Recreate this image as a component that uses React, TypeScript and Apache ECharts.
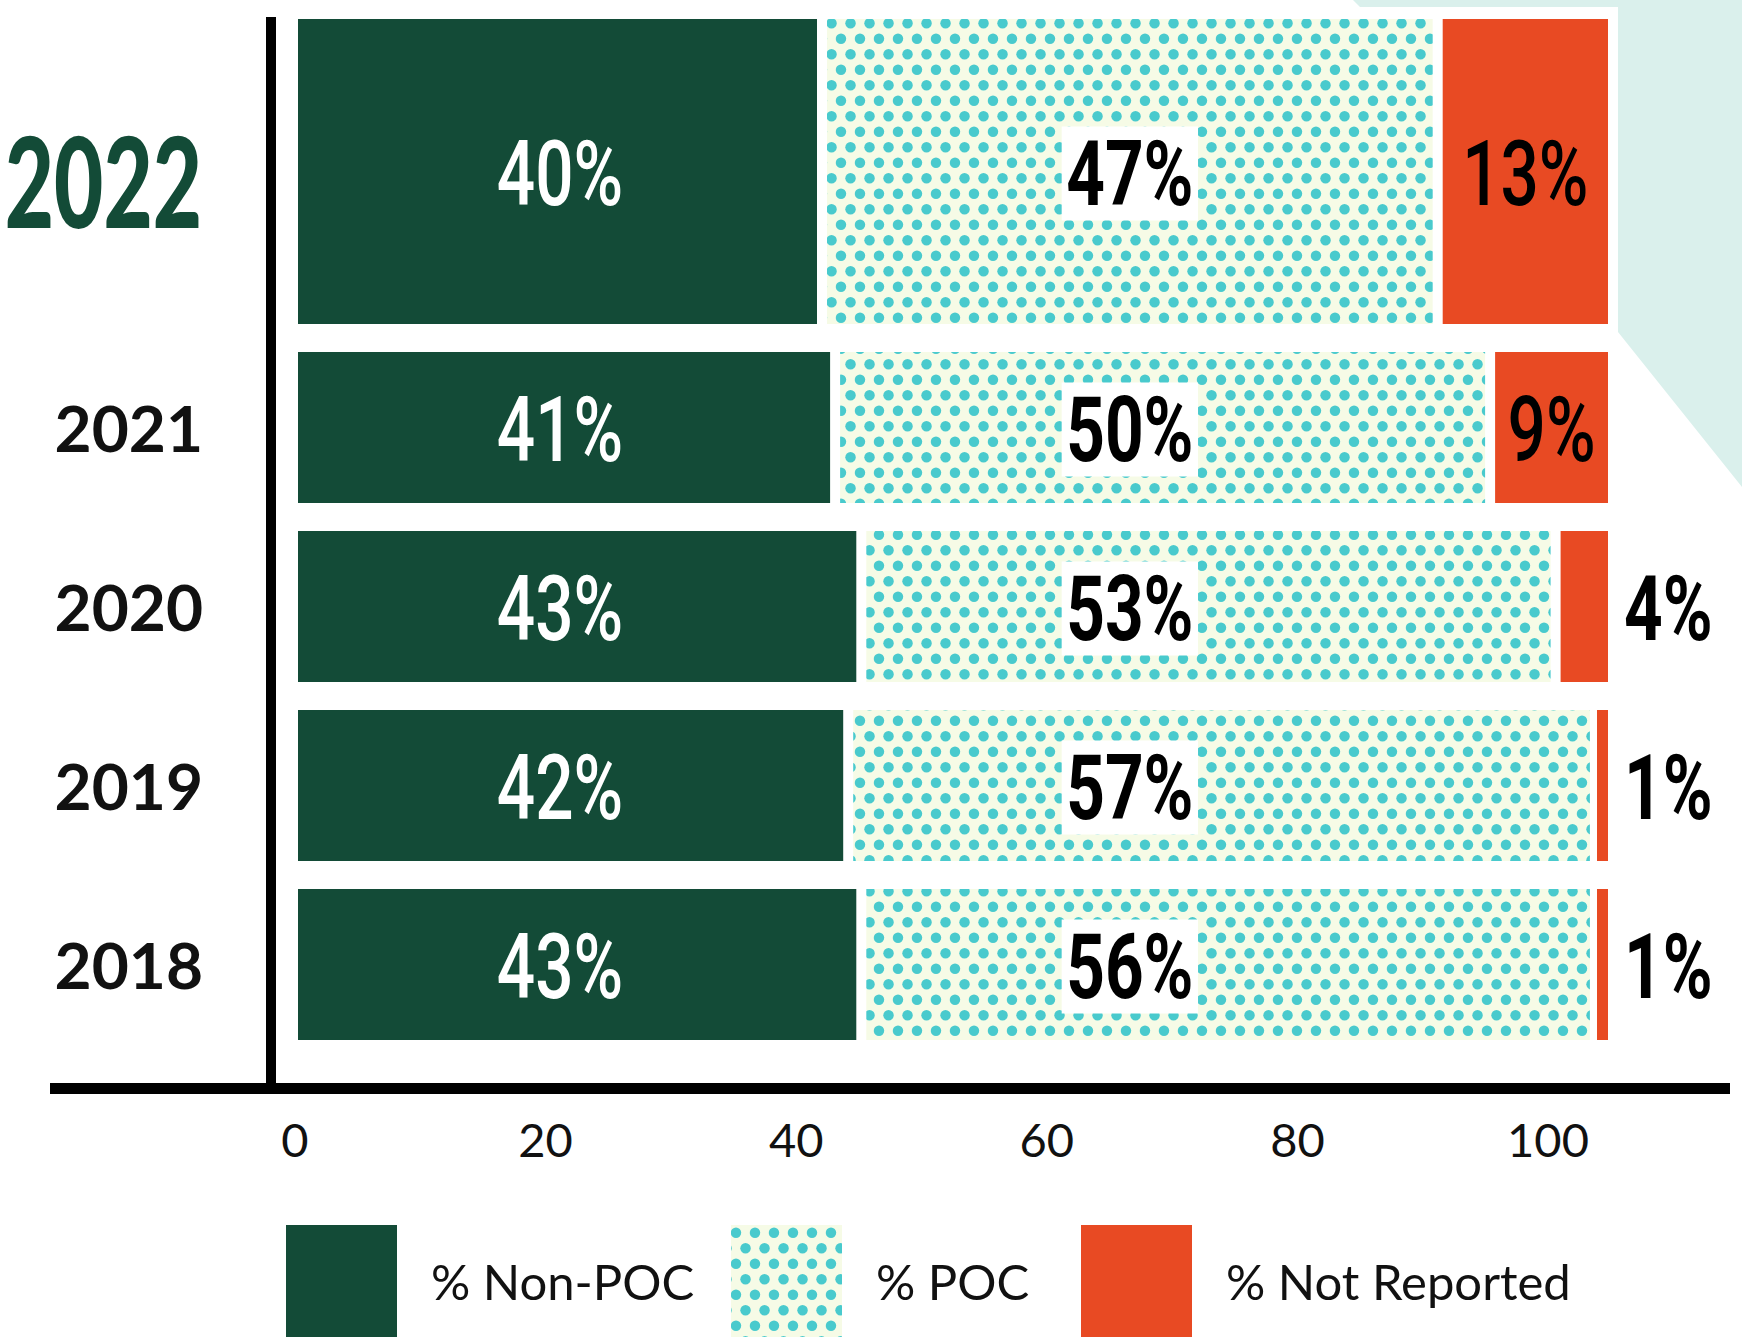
import React, { useEffect, useRef } from 'react';
import * as echarts from 'echarts';

// ---------- data ----------
const years = ['2022', '2021', '2020', '2019', '2018'];
const nonPoc = [40, 41, 43, 42, 43];
const poc = [47, 50, 53, 57, 56];
const notReported = [13, 9, 4, 1, 1];
const xTickLabels = [0, 20, 40, 60, 80, 100];
const seriesNames = ['% Non-POC', '% POC', '% Not Reported'];

// ---------- styles ----------
const GREEN = '#134b37';
const RED = '#e84a23';
const DOT = '#49cacd';
const CREAM = '#f6fbe6';
const TEAL_BG = '#daf0ec';
const W = 1742;
const H = 1339;

function makeDotPattern() {
  const tw = 19;
  const th = 31;
  const c = document.createElement('canvas');
  c.width = tw;
  c.height = th;
  const ctx = c.getContext('2d')!;
  ctx.fillStyle = CREAM;
  ctx.fillRect(0, 0, tw, th);
  ctx.fillStyle = DOT;
  const centers = [
    [5, 7.75],
    [14.5, 23.25],
  ];
  for (const [cx, cy] of centers) {
    for (const dx of [-tw, 0, tw]) {
      for (const dy of [-th, 0, th]) {
        ctx.beginPath();
        ctx.arc(cx + dx, cy + dy, 5.2, 0, Math.PI * 2);
        ctx.fill();
      }
    }
  }
  return { image: c, repeat: 'repeat', imageWidth: tw, imageHeight: th } as any;
}

export default function App() {
  const ref = useRef<HTMLDivElement>(null);

  useEffect(() => {
    document.body.style.margin = '0';
    if (!ref.current) return;
    const chart = echarts.init(ref.current, null, { renderer: 'svg' });
    const dotPattern = makeDotPattern();
    const fills: any[] = [GREEN, dotPattern, RED];
    const segVals = [nonPoc, poc, notReported];

    // grid 1: first year alone (taller bar); grid 2: remaining years
    const groups = [
      { grid: 1, yearIdx: [0], cats: [years[0]], fill: 1 },
      { grid: 2, yearIdx: years.slice(1).map((_, j) => j + 1), cats: years.slice(1).reverse(), fill: 151 / 179 },
    ];

    const series: any[] = [];
    groups.forEach((g) => {
      segVals.forEach((vals, k) => {
        series.push({
          type: 'custom',
          name: seriesNames[k],
          xAxisIndex: g.grid,
          yAxisIndex: g.grid,
          itemStyle: { color: fills[k] },
          encode: { x: [0, 1], y: 2 },
          clip: false,
          data: g.yearIdx.map((i) => {
            let start = 0;
            for (let m = 0; m < k; m++) start += segVals[m][i];
            const catIndex = g.cats.indexOf(years[i]);
            return [start, start + vals[i], catIndex, i];
          }),
          renderItem: (params: any, api: any) => {
            const x0 = api.value(0);
            const x1 = api.value(1);
            const cat = api.value(2);
            const yi = api.value(3);
            const v = segVals[k][yi];
            const p0 = api.coord([x0, cat]);
            const p1 = api.coord([x1, cat]);
            const h = api.size([0, 1])[1] * g.fill;
            const insetL = k === 0 ? 0 : 5;
            const insetR = k === 2 ? 0 : 5;
            const left = p0[0] + insetL;
            const width = Math.max(p1[0] - p0[0] - insetL - insetR, 11);
            const cy = p0[1];
            const rect = {
              type: 'rect',
              shape: { x: k === 2 ? p1[0] - width : left, y: cy - h / 2, width, height: h },
              style: { fill: fills[k] },
            };
            let tx = 0;
            let align = 'center';
            let fill = '#000';
            let weight: any = 500;
            let extra: any = {};
            if (k === 0) {
              tx = api.coord([nonPoc[0] / 2, cat])[0];
              fill = '#fff';
            } else if (k === 1) {
              tx = api.coord([nonPoc[0] + poc[0] / 2, cat])[0];
              weight = 'bold';
              extra = { backgroundColor: '#fff', padding: [2, 6] };
            } else {
              if (v >= 5) {
                tx = left + width / 2;
              } else {
                tx = p1[0] + 16;
                align = 'left';
                weight = 'bold';
              }
            }
            const text = {
              type: 'text',
              x: tx,
              y: cy + 2,
              scaleX: 0.75,
              z2: 10,
              style: {
                text: v + '%',
                fontSize: 90,
                fontFamily: 'Roboto',
                fontWeight: weight,
                fill,
                align,
                verticalAlign: 'middle',
                ...extra,
              },
            };
            return { type: 'group', children: [rect, text] };
          },
        });
      });
    });

    const legendX = [286, 731, 1081];

    const option: any = {
      animation: false,
      backgroundColor: '#fff',
      graphic: [
        {
          type: 'polygon',
          silent: true,
          z: -10,
          shape: {
            points: [
              [1353, 0],
              [1742, 0],
              [1742, 487],
              [1618, 332],
              [1618, 7],
              [1360, 7],
            ],
          },
          style: { fill: TEAL_BG },
        },
        {
          // large condensed label of the latest year
          type: 'text',
          x: 202,
          y: 180,
          scaleX: 0.68,
          silent: true,
          style: {
            text: years[0],
            fontSize: 125,
            fontWeight: 900,
            fontFamily: 'Lato',
            fill: GREEN,
            align: 'right',
            verticalAlign: 'middle',
          },
        },
      ],
      grid: [
        { left: 50, right: 12, top: 17, bottom: H - 1088, outerBoundsMode: 'none', containLabel: false },
        { left: 298, right: W - 1608, top: 19, height: 305, outerBoundsMode: 'none', containLabel: false },
        { left: 298, right: W - 1608, top: 338, height: 716, outerBoundsMode: 'none', containLabel: false },
      ],
      xAxis: [
        {
          gridIndex: 0,
          type: 'value',
          min: -19.553,
          max: 114.525,
          minInterval: 20,
          maxInterval: 20,
          axisLine: { show: true, onZero: false, lineStyle: { color: '#000', width: 11, cap: 'butt' } },
          axisTick: { show: false },
          splitLine: { show: false },
          axisLabel: {
            customValues: xTickLabels,
            margin: 27,
            fontSize: 47,
            fontFamily: 'Lato',
            color: '#111',
            formatter: (val: number) => {
              const r = Math.round(val);
              return Math.abs(val - r) < 1e-6 && xTickLabels.indexOf(r) >= 0 ? String(r) : '';
            },
          },
        },
        { gridIndex: 1, type: 'value', min: 0, max: 100, show: false },
        { gridIndex: 2, type: 'value', min: 0, max: 100, show: false },
      ],
      yAxis: [
        {
          gridIndex: 0,
          type: 'value',
          min: 0,
          max: 1,
          offset: -221,
          axisLine: { show: true, onZero: false, lineStyle: { color: '#000', width: 10, cap: 'butt' } },
          axisTick: { show: false },
          axisLabel: { show: false },
          splitLine: { show: false },
        },
        {
          gridIndex: 1,
          type: 'category',
          data: [years[0]],
          axisLine: { show: false },
          axisTick: { show: false },
          axisLabel: { show: false },
        },
        {
          gridIndex: 2,
          type: 'category',
          data: years.slice(1).reverse(),
          axisLine: { show: false },
          axisTick: { show: false },
          axisLabel: {
            margin: 95,
            fontSize: 64,
            fontWeight: 'bold',
            fontFamily: 'Lato',
            color: '#111',
          },
        },
      ],
      legend: seriesNames.map((n, k) => ({
        data: [n],
        left: legendX[k],
        top: 1225,
        padding: 0,
        itemWidth: 111,
        itemHeight: 112,
        icon: 'rect',
        selectedMode: false,
        textStyle: {
          fontSize: 49,
          fontFamily: 'Lato',
          color: '#111',
          padding: [0, 0, 0, 29],
        },
      })),
      series,
    };

    chart.setOption(option);
    return () => chart.dispose();
  }, []);

  return <div ref={ref} style={{ width: W, height: H }} />;
}
